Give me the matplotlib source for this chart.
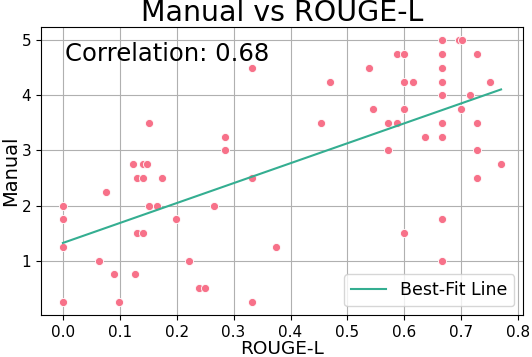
import numpy as np
import matplotlib
matplotlib.use("Agg")
import matplotlib.pyplot as plt

rouge_l = [
    0.152,
    0.123, 0.141, 0.148,
    0.131, 0.141, 0.175,
    0.075,
    0.0, 0.151, 0.165,
    0.0, 0.198,
    0.131, 0.141,
    0.0,
    0.064, 0.221,
    0.089, 0.127,
    0.240, 0.249,
    0.0, 0.098,
    0.332, 0.284, 0.284, 0.332, 0.265, 0.374, 0.332, 0.470, 0.454, 0.538,
    0.667, 0.696, 0.701,
    0.588, 0.600, 0.667, 0.727,
    0.667,
    0.600, 0.616, 0.667, 0.751,
    0.667, 0.715,
    0.545, 0.600, 0.700,
    0.572, 0.588, 0.667, 0.727,
    0.637, 0.667,
    0.572, 0.727,
    0.770, 0.727,
    0.667, 0.600, 0.667,
]
manual = [
    3.5,
    2.75, 2.75, 2.75,
    2.5, 2.5, 2.5,
    2.25,
    2.0, 2.0, 2.0,
    1.75, 1.75,
    1.5, 1.5,
    1.25,
    1.0, 1.0,
    0.75, 0.75,
    0.5, 0.5,
    0.25, 0.25,
    4.5, 3.25, 3.0, 2.5, 2.0, 1.25, 0.25, 4.25, 3.5, 4.5,
    5.0, 5.0, 5.0,
    4.75, 4.75, 4.75, 4.75,
    4.5,
    4.25, 4.25, 4.25, 4.25,
    4.0, 4.0,
    3.75, 3.75, 3.75,
    3.5, 3.5, 3.5, 3.5,
    3.25, 3.25,
    3.0, 3.0,
    2.75, 2.5,
    1.75, 1.5, 1.0,
]
correlation = 0.68

x = np.array(rouge_l)
y = np.array(manual)

fig = plt.figure(figsize=(5.32, 3.57), dpi=100)
ax = fig.add_axes([0.0771, 0.1176, 0.9059, 0.8064])
ax.set_axisbelow(True)
ax.grid(True, color="#b0b0b0", linewidth=0.8)

ax.scatter(x, y, s=34, color="#f77189", edgecolor="white", linewidth=0.6, zorder=2)

slope, intercept = np.polyfit(x, y, 1)
xs = np.array([x.min(), x.max()])
ax.plot(xs, slope * xs + intercept, color="#34ae91", linewidth=1.5, label="Best-Fit Line", zorder=3)

ax.set_title("Manual vs ROUGE-L", fontsize=20.5, pad=4)
ax.set_xlabel("ROUGE-L", fontsize=13.3, labelpad=0)
ax.set_ylabel("Manual", fontsize=14, labelpad=1)
ax.tick_params(labelsize=11)
ax.set_xticks([0.0, 0.1, 0.2, 0.3, 0.4, 0.5, 0.6, 0.7, 0.8])
ax.set_yticks([1, 2, 3, 4, 5])
ax.set_xlim(-0.0385, 0.8085)
ax.set_ylim(0.0125, 5.2375)

ax.text(0.05, 0.95, f"Correlation: {correlation:.2f}", transform=ax.transAxes,
        fontsize=17.5, va="top", ha="left")
ax.legend(loc="lower right", fontsize=12.5)

fig.savefig("out.png", dpi=100)
